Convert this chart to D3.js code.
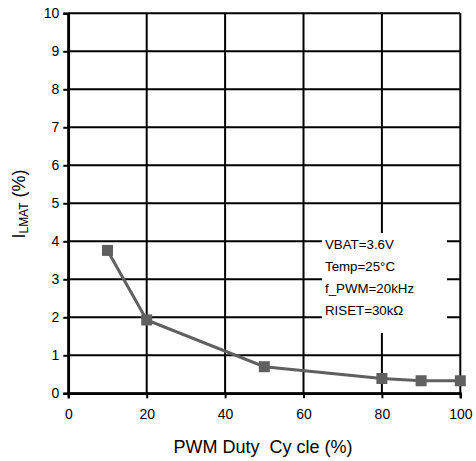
<!DOCTYPE html>
<html><head><meta charset="utf-8">
<script src="https://cdn.jsdelivr.net/npm/d3@7"></script>
<style>body{margin:0;background:#fff}svg{display:block}text{font-family:"Liberation Sans",Arial,sans-serif;fill:#000}</style>
</head><body><svg id="c" width="476" height="461"></svg>
<script>
const duty = [10, 20, 50, 80, 90, 100];
const ilmat = [3.76, 1.93, 0.70, 0.39, 0.33, 0.33];
const xTicks = [0, 20, 40, 60, 80, 100];
const yTicks = [0, 1, 2, 3, 4, 5, 6, 7, 8, 9, 10];
const notes = ["VBAT=3.6V", "Temp=25°C", "f_PWM=20kHz", "RISET=30kΩ"];

const svg = d3.select("#c");
const L = 68.3, R = 460.3, T = 13.3, B = 393.3;
const x = d3.scaleLinear().domain([0, 100]).range([L, R]);
const y = d3.scaleLinear().domain([0, 10]).range([B, T]);
const FF = '"Liberation Sans",Arial,sans-serif';

// grid
const g = svg.append("g");
g.selectAll(".vg").data(xTicks).enter().append("line")
  .attr("x1", d => x(d)).attr("x2", d => x(d)).attr("y1", T).attr("y2", B)
  .attr("stroke", "#000").attr("stroke-width", 2);
g.selectAll(".hg").data(yTicks).enter().append("line")
  .attr("x1", L).attr("x2", R).attr("y1", d => y(d)).attr("y2", d => y(d))
  .attr("stroke", "#000").attr("stroke-width", 2);

// axes
const ya = svg.append("g").attr("transform", `translate(${L},0)`)
  .call(d3.axisLeft(y).tickValues(yTicks).tickSize(5).tickPadding(4).tickFormat(d3.format("d")));
const xa = svg.append("g").attr("transform", `translate(0,${B})`)
  .call(d3.axisBottom(x).tickValues(xTicks).tickSize(5).tickPadding(11).tickFormat(d3.format("d")));
[ya, xa].forEach(a => {
  a.select(".domain").attr("stroke", "#000").attr("stroke-width", 2.5);
  a.selectAll(".tick line").attr("stroke", "#000").attr("stroke-width", 2);
  a.selectAll(".tick text").attr("font-size", 14).attr("font-family", FF).attr("fill", "#000");
});

// annotation box
const bx = 322, by = 233, bw = 125, bh = 100;
svg.append("rect").attr("x", bx).attr("y", by).attr("width", bw).attr("height", bh).attr("fill", "#fff");
svg.selectAll(".note").data(notes).enter().append("text")
  .attr("x", bx + 3).attr("y", (d, i) => by + 16 + i * 22).attr("font-size", 13.3).text(d => d);

// line + markers
const line = d3.line().x((d, i) => x(duty[i])).y(d => y(d));
svg.append("path").datum(ilmat).attr("d", line).attr("fill", "none")
  .attr("stroke", "#606060").attr("stroke-width", 3);
svg.selectAll(".m").data(ilmat).enter().append("rect")
  .attr("x", (d, i) => x(duty[i]) - 5.5).attr("y", d => y(d) - 5.5)
  .attr("width", 11).attr("height", 11).attr("fill", "#606060");

// labels
svg.append("text").attr("x", 263).attr("y", 453).attr("text-anchor", "middle")
  .attr("font-size", 18).style("white-space", "pre").text("PWM Duty  Cy cle (%)");
const yl = svg.append("text").attr("transform", "translate(25,204) rotate(-90)")
  .attr("text-anchor", "middle").attr("font-size", 18);
yl.append("tspan").text("I");
yl.append("tspan").attr("font-size", 12).attr("dy", 3).text("LMAT");
yl.append("tspan").attr("dy", -3).style("white-space", "pre").text(" (%)");
</script></body></html>
